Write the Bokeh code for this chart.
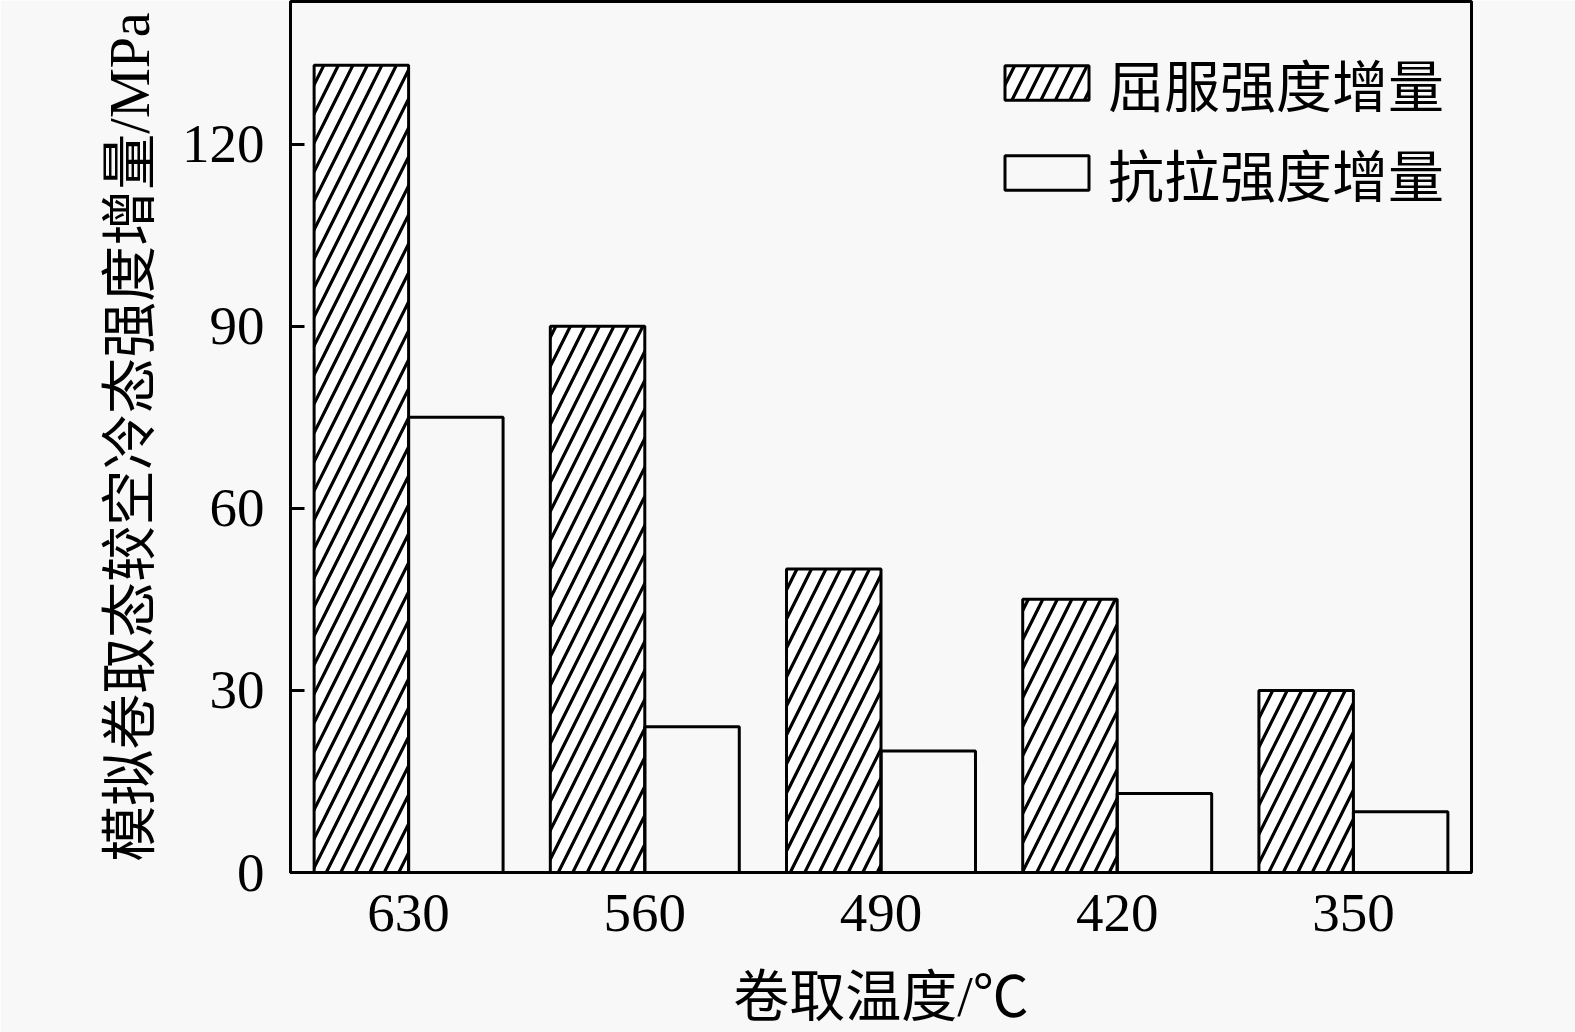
from bokeh.plotting import figure
from bokeh.models import ColumnDataSource, FactorRange, FixedTicker, Legend, LegendItem
from bokeh.transform import dodge
from bokeh.embed import file_html
from bokeh.resources import INLINE

temps = ["630", "560", "490", "420", "350"]
yield_inc = [133, 90, 50, 45, 30]
tensile_inc = [75, 24, 20, 13, 10]
y_ticks = [0, 30, 60, 90, 120]

BG = "#f8f8f8"
SERIF = "Liberation Serif, Noto Sans CJK SC"
FS_TICK = "55px"
FS_LAB = "56px"

src = ColumnDataSource(dict(temp=temps, ys=yield_inc, ts=tensile_inc))

p = figure(width=1575, height=1032, x_range=FactorRange(factors=temps, range_padding=0),
           y_range=(0, 143.5), output_backend="svg", toolbar_location=None,
           min_border_left=290, min_border_right=104, min_border_top=1, min_border_bottom=160)
p.background_fill_color = BG
p.border_fill_color = BG
p.outline_line_color = "black"
p.outline_line_width = 3
p.xgrid.visible = False
p.ygrid.visible = False

r1 = p.vbar(x=dodge("temp", -0.2, range=p.x_range), top="ys", width=0.4, source=src,
            fill_color="white", line_color="black", line_width=3,
            hatch_pattern="/", hatch_color="black", hatch_weight=3.2, hatch_scale=29)
r2 = p.vbar(x=dodge("temp", 0.2, range=p.x_range), top="ts", width=0.4, source=src,
            fill_color=None, line_color="black", line_width=3)

for ax in (p.xaxis[0], p.yaxis[0]):
    ax.axis_line_width = 3
    ax.axis_line_color = "black"
    ax.major_label_text_font = SERIF
    ax.major_label_text_font_size = FS_TICK
    ax.major_label_text_color = "black"
    ax.axis_label_text_font = SERIF
    ax.axis_label_text_font_size = FS_LAB
    ax.axis_label_text_font_style = "normal"
    ax.axis_label_text_color = "black"
    ax.minor_tick_line_color = None

p.xaxis.major_tick_line_color = None
p.xaxis.major_label_standoff = 16
p.xaxis.axis_label = "卷取温度/℃"
p.xaxis.axis_label_standoff = 32

p.yaxis.ticker = FixedTicker(ticks=y_ticks)
p.yaxis.major_tick_in = 14
p.yaxis.major_tick_out = 0
p.yaxis.major_tick_line_width = 3
p.yaxis.major_label_standoff = 26
p.yaxis.axis_label = "模拟卷取态较空冷态强度增量/MPa"
p.yaxis.axis_label_standoff = 18

legend = Legend(items=[LegendItem(label="屈服强度增量", renderers=[r1]),
                       LegendItem(label="抗拉强度增量", renderers=[r2])],
                location=(704, 659), glyph_width=105, glyph_height=43, label_height=54,
                spacing=9, padding=0, margin=0, label_standoff=9,
                label_text_font=SERIF, label_text_font_size=FS_LAB, label_text_color="black",
                border_line_color=None, background_fill_color=None)
p.add_layout(legend, "center")

open("out.html", "w").write(file_html(p, INLINE))
